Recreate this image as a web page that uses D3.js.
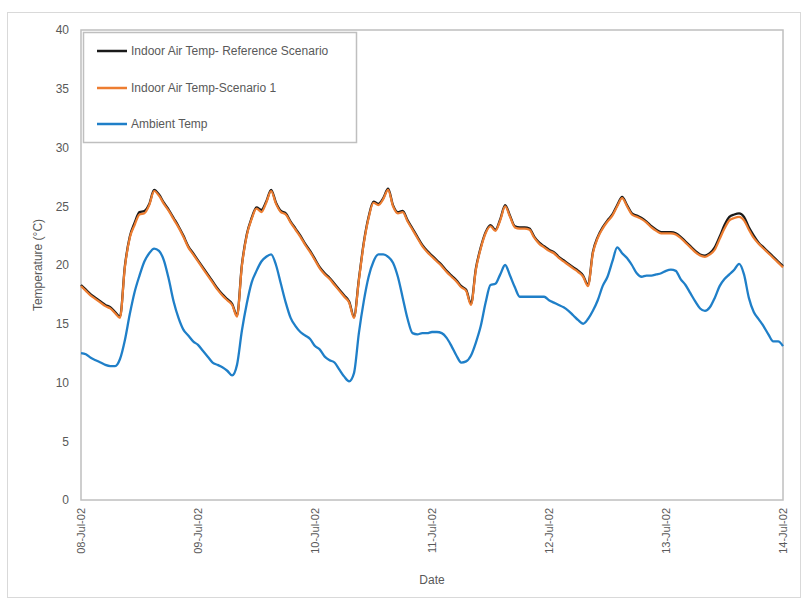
<!DOCTYPE html>
<html>
<head>
<meta charset="utf-8">
<script src="https://cdn.jsdelivr.net/npm/d3@7"></script>
<style>
  html, body { margin: 0; padding: 0; background: #fff; }
  svg { display: block; font-family: "Liberation Sans", Arial, sans-serif; }
</style>
</head>
<body>
<svg id="chart" width="806" height="601"></svg>
<script>
// ---- Data (hourly, starting 08-Jul-02 00:00) ----
const startDate = "2002-07-08T00:00:00";
const tickLabels = ["08-Jul-02", "09-Jul-02", "10-Jul-02", "11-Jul-02", "12-Jul-02", "13-Jul-02", "14-Jul-02"];
const yTicks = [0, 5, 10, 15, 20, 25, 30, 35, 40];
const seriesNames = ["Indoor Air Temp- Reference Scenario", "Indoor Air Temp-Scenario 1", "Ambient Temp"];

const indoorScenario1 = [
  18.2, 17.8, 17.4, 17.1, 16.8, 16.5, 16.3, 15.9, 15.5, 19.8, 22.3, 23.4, 24.3, 24.4, 25.1, 26.3, 25.9, 25.2, 24.6, 23.9, 23.2, 22.4, 21.5, 20.9,
  20.3, 19.7, 19.1, 18.5, 17.9, 17.4, 17.0, 16.6, 15.6, 19.9, 22.5, 23.9, 24.8, 24.5, 25.3, 26.3, 25.2, 24.5, 24.3, 23.6, 23.0, 22.4, 21.7, 21.1,
  20.4, 19.7, 19.2, 18.8, 18.3, 17.8, 17.3, 16.8, 15.5, 18.7, 21.8, 24.0, 25.3, 25.1, 25.6, 26.4, 25.0, 24.4, 24.5, 23.7, 23.0, 22.3, 21.6, 21.1,
  20.7, 20.3, 19.9, 19.4, 19.0, 18.6, 18.1, 17.8, 16.6, 19.6, 21.4, 22.7, 23.3, 22.9, 23.8, 25.0, 24.1, 23.2, 23.1, 23.1, 23.0, 22.3, 21.8, 21.5,
  21.2, 21.0, 20.6, 20.3, 20.0, 19.7, 19.4, 19.0, 18.2, 21.0, 22.3, 23.1, 23.7, 24.2, 25.0, 25.7, 25.0, 24.3, 24.1, 23.9, 23.6, 23.2, 22.9, 22.7,
  22.7, 22.7, 22.6, 22.3, 21.9, 21.5, 21.1, 20.8, 20.7, 20.9, 21.3, 22.2, 23.1, 23.8, 24.0, 24.1, 23.8, 23.0, 22.3, 21.8, 21.4, 21.0, 20.6, 20.2,
  19.8
];

const indoorReference = [
  18.3, 17.9, 17.5, 17.2, 16.9, 16.6, 16.4, 16.0, 15.6, 19.9, 22.4, 23.6, 24.5, 24.6, 25.2, 26.4, 26.0, 25.3, 24.7, 24.0, 23.3, 22.5, 21.6, 21.0,
  20.4, 19.8, 19.2, 18.6, 18.0, 17.5, 17.1, 16.7, 15.7, 20.0, 22.6, 24.0, 24.9, 24.7, 25.4, 26.4, 25.3, 24.6, 24.4, 23.7, 23.1, 22.5, 21.8, 21.2,
  20.5, 19.8, 19.3, 18.9, 18.4, 17.9, 17.4, 16.9, 15.6, 18.8, 21.9, 24.1, 25.4, 25.2, 25.7, 26.5, 25.1, 24.5, 24.6, 23.8, 23.1, 22.4, 21.7, 21.2,
  20.8, 20.4, 20.0, 19.5, 19.1, 18.7, 18.2, 17.9, 16.7, 19.7, 21.5, 22.8, 23.4, 23.0, 23.9, 25.1, 24.2, 23.3, 23.2, 23.2, 23.1, 22.4, 21.9, 21.6,
  21.3, 21.1, 20.7, 20.4, 20.1, 19.8, 19.5, 19.1, 18.3, 21.1, 22.4, 23.2, 23.8, 24.3, 25.1, 25.8, 25.1, 24.4, 24.2, 24.0, 23.7, 23.3, 23.0, 22.8,
  22.8, 22.8, 22.7, 22.4, 22.0, 21.6, 21.2, 20.9, 20.8, 21.0, 21.5, 22.4, 23.4, 24.1, 24.3, 24.4, 24.1, 23.2, 22.5, 21.9, 21.5, 21.1, 20.7, 20.3,
  19.9
];

const ambient = [
  12.5, 12.4, 12.1, 11.9, 11.7, 11.5, 11.4, 11.4, 12.0, 13.6, 15.8, 17.7, 19.1, 20.3, 21.0, 21.4, 21.2, 20.4, 18.8, 16.9, 15.5, 14.5, 14.0, 13.5,
  13.2, 12.7, 12.2, 11.7, 11.5, 11.3, 11.0, 10.6, 11.5, 14.4, 16.7, 18.5, 19.5, 20.3, 20.7, 20.9, 20.0, 18.4, 16.8, 15.5, 14.8, 14.3, 14.0, 13.7,
  13.1, 12.8, 12.2, 11.9, 11.7, 11.1, 10.5, 10.1, 10.8, 14.2, 16.9, 19.0, 20.3, 20.9, 20.9, 20.7, 20.2, 19.0, 17.2, 15.4, 14.2, 14.1, 14.2, 14.2,
  14.3, 14.3, 14.2, 13.8, 13.1, 12.3, 11.7, 11.8, 12.3, 13.4, 14.8, 16.8, 18.3, 18.4, 19.2, 20.0, 19.1, 18.1, 17.3, 17.3, 17.3, 17.3, 17.3, 17.3,
  17.0, 16.8, 16.6, 16.4, 16.1, 15.7, 15.3, 15.0, 15.4, 16.1, 17.0, 18.2, 19.0, 20.3, 21.5, 21.0, 20.6, 20.0, 19.3, 19.0, 19.1, 19.1, 19.2, 19.3,
  19.5, 19.6, 19.5, 18.8, 18.3, 17.6, 16.9, 16.3, 16.1, 16.4, 17.2, 18.2, 18.8, 19.2, 19.6, 20.1, 19.2, 17.2, 16.0, 15.4, 14.8, 14.1, 13.5, 13.5,
  13.1
];

// ---- Setup ----
const svg = d3.select("#chart");
const margin = { left: 81, right: 23, top: 30, bottom: 101 };
const W = 806, H = 601;
const x0 = margin.left, x1 = W - margin.right, y0 = H - margin.bottom, y1 = margin.top;

const t0 = new Date(startDate);
const hourMs = 3600 * 1000;
const timeOf = i => new Date(t0.getTime() + i * hourMs);
const tEnd = timeOf(indoorScenario1.length - 1);

const x = d3.scaleTime().domain([t0, tEnd]).range([x0, x1]);
const y = d3.scaleLinear().domain([0, 40]).range([y0, y1]);

const textColor = "#595959";

// outer chart border
svg.append("rect")
  .attr("x", 7.5).attr("y", 12.5).attr("width", 793).attr("height", 585)
  .attr("fill", "#fff").attr("stroke", "#d9d9d9").attr("stroke-width", 1);

// plot area border
svg.append("rect")
  .attr("x", x0).attr("y", y1).attr("width", x1 - x0).attr("height", y0 - y1)
  .attr("fill", "none").attr("stroke", "#bfbfbf").attr("stroke-width", 1.5);

// y axis
const yAxis = d3.axisLeft(y).tickValues(yTicks).tickSize(0).tickPadding(12);
const gy = svg.append("g").attr("transform", `translate(${x0},0)`).call(yAxis);
gy.select(".domain").remove();
gy.selectAll("text").attr("fill", textColor).style("font-size", "12px");

// x axis
const tickDates = tickLabels.map((_, i) => timeOf(i * 24));
const xAxis = d3.axisBottom(x).tickValues(tickDates).tickSize(0)
  .tickFormat((d, i) => tickLabels[i]);
const gx = svg.append("g").attr("transform", `translate(0,${y0})`).call(xAxis);
gx.select(".domain").remove();
gx.selectAll("text")
  .attr("fill", textColor)
  .style("font-size", "11px")
  .attr("transform", "rotate(-90)")
  .attr("text-anchor", "end")
  .attr("x", -8).attr("y", 0).attr("dy", "0.35em");

// axis titles
svg.append("text")
  .attr("x", (x0 + x1) / 2).attr("y", 584)
  .attr("text-anchor", "middle").attr("fill", textColor)
  .style("font-size", "12px").text("Date");

svg.append("text")
  .attr("transform", `translate(42,${(y0 + y1) / 2}) rotate(-90)`)
  .attr("text-anchor", "middle").attr("fill", textColor)
  .style("font-size", "12px").text("Temperature (°C)");

// lines
const line = d3.line().x((d, i) => x(timeOf(i))).y(d => y(d)).curve(d3.curveMonotoneX);
const colors = ["#1a1a1a", "#ed7d31", "#1f7fc8"];
const widths = [2.3, 2.2, 2.3];
const seriesData = [indoorReference, indoorScenario1, ambient];
seriesData.forEach((s, k) => {
  svg.append("path").datum(s)
    .attr("d", line)
    .attr("fill", "none")
    .attr("stroke", colors[k])
    .attr("stroke-width", widths[k])
    .attr("stroke-linejoin", "round");
});

// legend
const lg = svg.append("g");
lg.append("rect").attr("x", 83.5).attr("y", 32.5).attr("width", 273).attr("height", 110)
  .attr("fill", "#fff").attr("stroke", "#bfbfbf").attr("stroke-width", 1.5);
const legendY = [51, 88, 124];
seriesNames.forEach((name, k) => {
  lg.append("line").attr("x1", 97).attr("x2", 127).attr("y1", legendY[k]).attr("y2", legendY[k])
    .attr("stroke", colors[k]).attr("stroke-width", 2.5);
  lg.append("text").attr("x", 131).attr("y", legendY[k]).attr("dy", "0.35em")
    .attr("fill", textColor).style("font-size", "12px").text(name);
});
</script>
</body>
</html>
